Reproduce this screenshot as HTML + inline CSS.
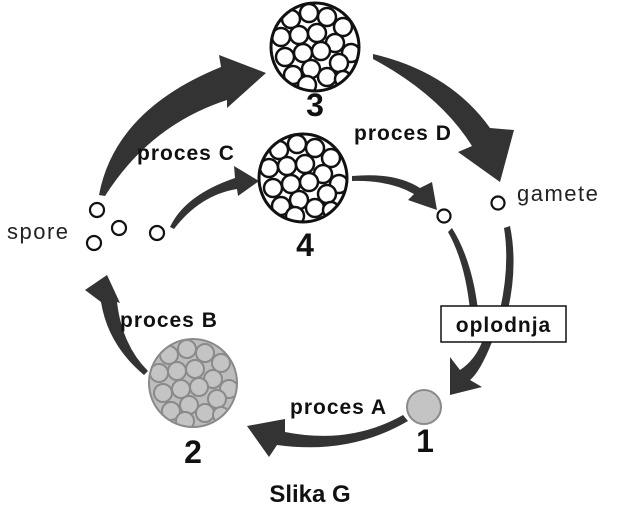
<!DOCTYPE html>
<html><head><meta charset="utf-8"><style>
body{margin:0;background:#fff;}
svg{display:block}
text{font-family:"Liberation Sans",sans-serif}
.b{font-weight:bold;fill:#111}
</style></head><body>
<svg width="617" height="525" viewBox="0 0 617 525" xmlns="http://www.w3.org/2000/svg">
<defs>
<clipPath id="cc"><circle cx="0" cy="0" r="43"/></clipPath>
<g id="pack">
<circle cx="-24" cy="-28" r="9"/><circle cx="-6" cy="-34" r="9"/><circle cx="12" cy="-30" r="9"/><circle cx="28" cy="-20" r="9"/>
<circle cx="-34" cy="-10" r="9"/><circle cx="-16" cy="-12" r="9"/><circle cx="2" cy="-14" r="9"/><circle cx="20" cy="-4" r="9"/><circle cx="36" cy="6" r="9"/>
<circle cx="-30" cy="10" r="9"/><circle cx="-12" cy="6" r="9"/><circle cx="6" cy="4" r="9"/><circle cx="24" cy="16" r="9"/>
<circle cx="-22" cy="28" r="9"/><circle cx="-4" cy="22" r="9"/><circle cx="12" cy="30" r="9"/><circle cx="-8" cy="38" r="9"/><circle cx="28" cy="32" r="8"/>
</g>
</defs>
<circle cx="315" cy="47" r="44" fill="#fff"/>
<g transform="translate(315,47)"><g clip-path="url(#cc)" fill="#fff" stroke="#111" stroke-width="2.5"><use href="#pack"/></g></g>
<circle cx="315" cy="47" r="44" fill="none" stroke="#111" stroke-width="3"/>
<circle cx="303" cy="178" r="44" fill="#fff"/>
<g transform="translate(303,178)"><g clip-path="url(#cc)" fill="#fff" stroke="#111" stroke-width="2.5"><use href="#pack"/></g></g>
<circle cx="303" cy="178" r="44" fill="none" stroke="#111" stroke-width="3"/>
<circle cx="193" cy="383" r="44" fill="#bdbdbd"/>
<g transform="translate(193,383)"><g clip-path="url(#cc)" fill="#c4c4c4" stroke="#8a8a8a" stroke-width="2"><use href="#pack"/></g></g>
<circle cx="193" cy="383" r="44" fill="none" stroke="#8a8a8a" stroke-width="2"/>
<circle cx="424" cy="407" r="17" fill="#c4c4c4" stroke="#8a8a8a" stroke-width="2"/>
<g fill="#fff" stroke="#111" stroke-width="2.2">
<circle cx="97" cy="210" r="7"/><circle cx="119" cy="228" r="7"/><circle cx="94" cy="243" r="7"/><circle cx="157" cy="233" r="7"/>
<circle cx="444" cy="216" r="6.5"/><circle cx="498" cy="203" r="6.5"/>
</g>
<g fill="#333">
<path d="M99,195 Q115,110 221,67 L219,55 L266,73 L227,108 L227,100 Q150,125 105,196 Z"/>
<path d="M373,54 Q450,72 490,128 L514,130 L500,182 L458,152 L472,146 Q440,95 373,59 Z"/>
<path d="M170,227 Q185,195 235,178 L234,166 L259,181 L238,196 L237,189 Q200,195 174,229 Z"/>
<path d="M352,176 Q395,172 420,188 L432,182 L437,210 L408,200 L414,194 Q390,180 352,181 Z"/>
<path d="M452,228 Q472,260 478,310 L470,310 Q465,262 448,232 Z"/>
<path d="M510,226 Q518,265 508,310 L500,310 Q510,265 504,228 Z"/>
<path d="M492,342 Q480,372 470,380 L482,387 L450,395 L450,357 L460,370 Q475,360 482,342 Z"/>
<path d="M403,415 Q350,445 285,432 L285,419 L247,426 L269,457 L277,445 Q350,455 408,421 Z"/>
<path d="M144,375 Q108,345 101,302 L85,290 L107,275 L120,303 L117,302 Q122,345 148,371 Z"/>
</g>
<rect x="441" y="306" width="125" height="36" fill="#fff" stroke="#111" stroke-width="1.5"/>
<text x="503.5" y="332" text-anchor="middle" class="b" font-size="21" letter-spacing="1">oplodnja</text>
<text x="315" y="116" text-anchor="middle" class="b" font-size="32">3</text>
<text x="305" y="256" text-anchor="middle" class="b" font-size="32">4</text>
<text x="193" y="463" text-anchor="middle" class="b" font-size="32">2</text>
<text x="425" y="452" text-anchor="middle" class="b" font-size="32">1</text>
<g class="b" font-size="21" letter-spacing="1">
<text x="137" y="160">proces C</text>
<text x="354" y="140">proces D</text>
<text x="120" y="327">proces B</text>
<text x="290" y="414">proces A</text>
</g>
<text x="7" y="239" font-size="22" letter-spacing="1.5" fill="#222">spore</text>
<text x="517" y="201" font-size="22" letter-spacing="1.5" fill="#222">gamete</text>
<text x="310" y="502" text-anchor="middle" class="b" font-size="24" fill="#222">Slika G</text>
</svg>
</body></html>
